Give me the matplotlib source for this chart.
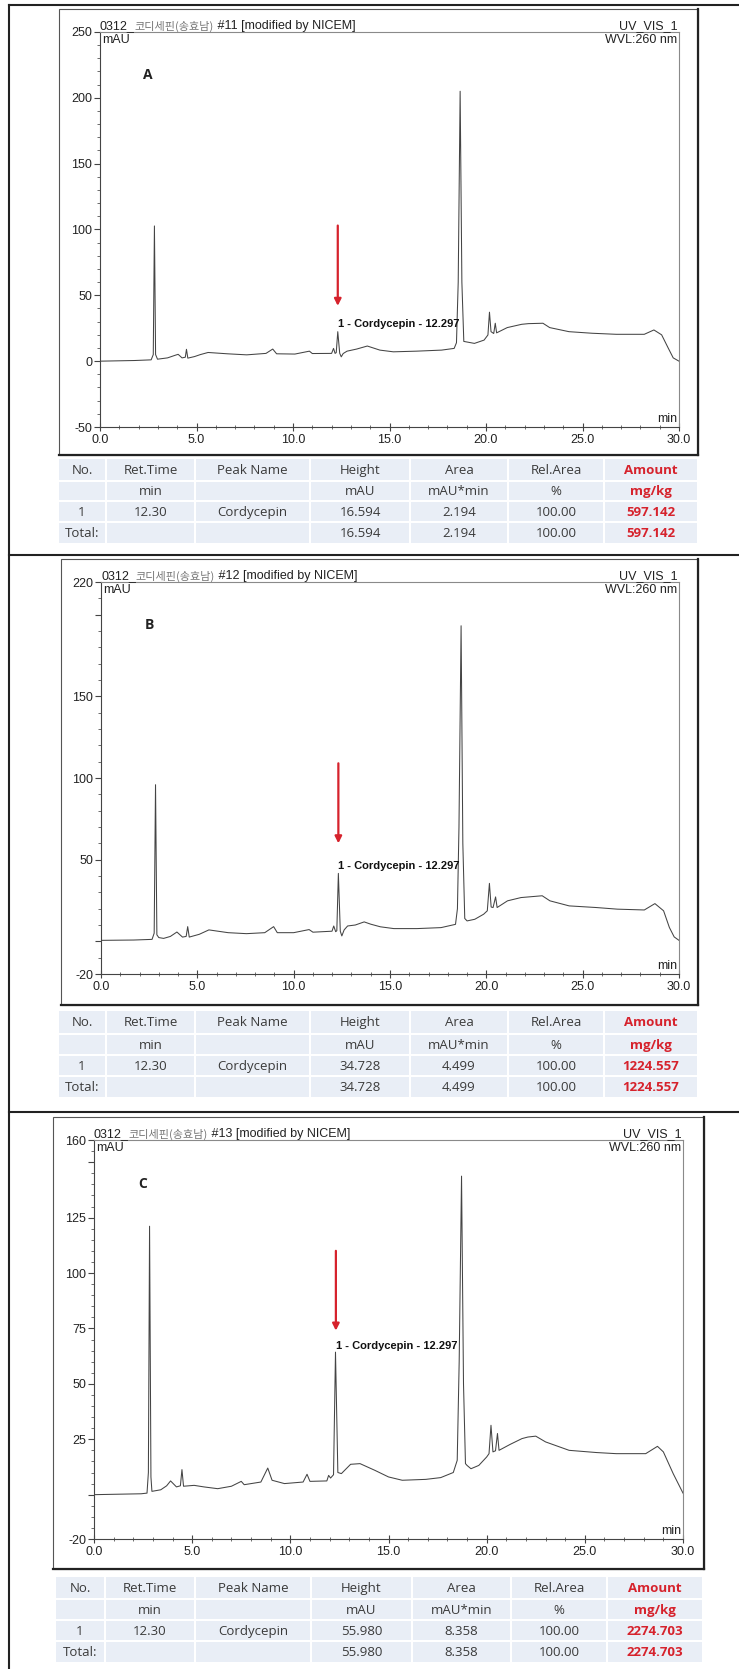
import matplotlib
matplotlib.use("Agg")
import matplotlib.pyplot as plt
from matplotlib.patches import Rectangle
from matplotlib.ticker import MultipleLocator, FixedLocator

W, H = 739, 1669

# ---- chromatogram traces (min, mAU) ----
time_a = [0.0, 1.8, 2.65, 2.76, 2.82, 2.88, 2.98, 3.5, 3.9, 4.05, 4.25, 4.42, 4.48, 4.55, 4.9, 5.2,
          5.6, 6.6, 7.6, 8.6, 8.95, 9.15, 10.1, 10.85, 11.0, 12.0, 12.1, 12.18, 12.24, 12.32, 12.42,
          12.5, 12.6, 12.8, 13.3, 13.85, 14.5, 15.2, 16.4, 17.7, 18.35, 18.47, 18.56, 18.66, 18.75,
          18.85, 19.4, 19.9, 20.1, 20.18, 20.26, 20.4, 20.48, 20.55, 21.1, 21.85, 22.2, 22.95, 23.3,
          24.3, 25.5, 26.75, 28.2, 28.7, 29.1, 29.45, 29.7, 30.0]
mau_a = [0.0, 0.5, 1.0, 5.0, 102.7, 5.0, 1.5, 2.5, 4.5, 5.2, 2.5, 3.0, 9.0, 2.3, 3.5, 5.0,
         6.6, 5.6, 4.8, 5.9, 9.2, 5.6, 5.4, 7.6, 5.8, 5.9, 9.7, 5.9, 6.5, 22.4, 6.0,
         3.3, 5.8, 7.6, 9.2, 11.5, 8.4, 7.1, 7.6, 8.4, 9.7, 14.0, 60.0, 205.0, 60.0,
         15.0, 13.5, 16.0, 19.9, 37.2, 22.4, 21.0, 28.8, 21.5, 25.5, 28.0, 28.5, 28.8, 25.5,
         22.4, 21.2, 20.4, 20.4, 23.7, 20.0, 9.7, 2.5, 0.0]

time_b = [0.0, 1.7, 2.65, 2.76, 2.83, 2.9, 3.0, 3.25, 3.6, 3.94, 4.23, 4.42, 4.5, 4.58, 5.1, 5.6,
          6.6, 7.55, 8.5, 8.96, 9.15, 10.0, 10.8, 11.0, 11.99, 12.08, 12.18, 12.24, 12.32, 12.42,
          12.5, 12.62, 12.8, 13.2, 13.66, 14.0, 14.5, 15.2, 16.4, 17.65, 18.4, 18.5, 18.58, 18.69,
          18.78, 18.88, 19.0, 19.4, 19.86, 20.05, 20.16, 20.25, 20.35, 20.48, 20.56, 21.1, 21.8,
          22.2, 22.9, 23.3, 24.3, 25.7, 26.8, 28.2, 28.75, 29.2, 29.5, 29.75, 30.0]
mau_b = [0.6, 0.8, 1.2, 5.0, 95.9, 4.0, 2.3, 1.8, 3.0, 5.7, 2.6, 3.0, 9.0, 2.6, 4.3, 7.0,
         5.3, 4.7, 5.3, 9.0, 5.3, 5.3, 7.2, 5.6, 6.2, 9.4, 5.9, 6.5, 41.6, 6.2,
         3.3, 7.0, 9.4, 10.0, 11.9, 10.5, 8.9, 7.8, 7.8, 8.4, 10.4, 20.0, 70.0, 193.2,
         60.0, 14.0, 12.5, 13.5, 16.6, 18.7, 35.5, 21.0, 20.7, 27.2, 20.7, 24.8, 26.8,
         27.2, 27.9, 24.8, 21.7, 20.7, 19.7, 19.2, 23.1, 18.7, 8.5, 2.7, 0.6]

time_c = [0.0, 2.4, 2.7, 2.77, 2.83, 2.9, 2.95, 3.4, 3.7, 3.9, 4.2, 4.4, 4.48, 4.56, 5.1, 5.6,
          6.3, 7.0, 7.5, 7.65, 8.5, 8.85, 9.07, 9.7, 10.65, 10.85, 11.0, 11.86, 11.95, 12.05,
          12.2, 12.3, 12.42, 12.6, 13.07, 13.55, 14.3, 15.0, 15.7, 16.9, 17.66, 18.3, 18.5,
          18.6, 18.72, 18.82, 18.92, 19.0, 19.2, 19.6, 20.0, 20.12, 20.22, 20.32, 20.45, 20.55,
          20.63, 21.2, 21.8, 22.1, 22.5, 23.0, 24.2, 25.6, 26.6, 28.1, 28.7, 29.0, 29.5, 30.0]
mau_c = [0.0, 0.4, 0.7, 10.0, 121.1, 8.0, 1.5, 2.2, 4.0, 6.2, 3.5, 4.0, 11.3, 3.8, 4.2, 3.5,
         2.7, 3.8, 6.0, 4.5, 5.7, 12.0, 6.5, 5.0, 5.7, 9.2, 6.0, 6.2, 8.7, 7.5,
         9.0, 64.3, 10.0, 9.5, 13.7, 14.0, 11.0, 8.0, 6.5, 6.9, 7.7, 10.0, 15.5,
         60.0, 143.7, 50.0, 14.0, 13.2, 11.7, 13.2, 17.0, 18.5, 31.3, 19.3, 19.8, 27.6,
         20.0, 22.7, 25.3, 26.0, 26.4, 23.8, 20.0, 19.0, 18.5, 18.5, 21.8, 19.3, 9.5, 0.7]

# ---- per-panel labels ----
panel_letters = ["A", "B", "C"]
run_numbers = ["#11", "#12", "#13"]
y_limits = [(-50, 250), (-20, 220), (-20, 160)]
y_major = [[250, 200, 150, 100, 50, 0, -50],
           [220, 200, 150, 100, 50, 0, -20],
           [160, 150, 125, 100, 75, 50, 25, 0, -20]]
y_major_labels = [["250", "200", "150", "100", "50", "0", "-50"],
                  ["220", "", "150", "100", "50", "", "-20"],
                  ["160", "", "125", "100", "75", "50", "25", "", "-20"]]
y_minor_step = [10, 10, 5]
peak_time = 12.3
label_level = [28, 46, 67]
arrow_top = [103, 109, 110]
arrow_tip = [42, 60, 74]

# ---- result tables ----
table_header = ["No.", "Ret.Time", "Peak Name", "Height", "Area", "Rel.Area", "Amount"]
table_units = ["", "min", "", "mAU", "mAU*min", "%", "mg/kg"]
height_vals = ["16.594", "34.728", "55.980"]
area_vals = ["2.194", "4.499", "8.358"]
amount_vals = ["597.142", "1224.557", "2274.703"]

traces = [(time_a, mau_a), (time_b, mau_b), (time_c, mau_c)]

# ---- layout in pixels ----
frames = [(59, 9, 698, 455), (61, 559, 698, 1005), (53, 1117, 704, 1569)]
plots = [(100, 32, 679, 427), (101, 582, 679, 974), (94, 1140, 683, 1539)]
tab_cols = [[58, 106, 195, 310, 410, 508, 604, 698],
            [58, 106, 195, 310, 410, 508, 604, 698],
            [55, 105, 195, 311, 412, 511, 607, 703]]
tab_rows = [[458, 481, 501, 522, 544],
            [1010, 1034, 1055, 1076, 1098],
            [1576, 1599, 1620, 1641, 1663]]

fig = plt.figure(figsize=(W / 100, H / 100), dpi=100)
fig.patch.set_facecolor("white")

ov = fig.add_axes([0, 0, 1, 1], zorder=0)
ov.set_xlim(0, W)
ov.set_ylim(H, 0)
ov.axis("off")

# outer page borders
ov.plot([9, 9], [5, H], color="#222222", lw=1.5)
for yy in [5, 555, 1112]:
    ov.plot([9, W], [yy, yy], color="#222222", lw=1.5)

txt_font = "Liberation Sans"
red = "#d6222c"

for i in range(3):
    fx0, fy0, fx1, fy1 = frames[i]
    ov.add_patch(Rectangle((fx0, fy0), fx1 - fx0, fy1 - fy0, facecolor="white",
                           edgecolor="#555555", lw=0.8))
    ov.plot([fx1, fx1], [fy0, fy1], color="#222222", lw=1.6)
    ov.plot([fx0, fx1], [fy1, fy1], color="#222222", lw=1.6)

    x0, y0, x1, y1 = plots[i]
    ax = fig.add_axes([x0 / W, 1 - y1 / H, (x1 - x0) / W, (y1 - y0) / H], zorder=2)
    ax.set_facecolor("none")
    t, v = traces[i]
    ax.plot(t, v, color="#444444", lw=0.75)
    ax.set_xlim(0, 30)
    ax.set_ylim(*y_limits[i])

    for s in ["left", "bottom"]:
        ax.spines[s].set_color("#444444")
        ax.spines[s].set_linewidth(0.8)
    for s in ["top", "right"]:
        ax.spines[s].set_color("#8a8a8a")
        ax.spines[s].set_linewidth(0.8)

    ax.yaxis.set_major_locator(FixedLocator(y_major[i]))
    ax.set_yticklabels(y_major_labels[i])
    ax.yaxis.set_minor_locator(MultipleLocator(y_minor_step[i]))
    ax.xaxis.set_minor_locator(MultipleLocator(1))
    ax.set_xticks([0, 5, 10, 15, 20, 25, 30])
    ax.set_xticklabels([f"{x:.1f}" for x in [0, 5, 10, 15, 20, 25, 30]])
    ax.tick_params(axis="y", which="major", direction="out", length=4, width=0.8,
                   color="#444444", pad=1.5, labelsize=9, labelcolor="#222222")
    ax.tick_params(axis="y", which="minor", direction="out", length=2.5, width=0.6,
                   color="#555555")
    ax.tick_params(axis="x", which="major", direction="inout", length=6, width=0.8,
                   color="#444444", pad=2, labelsize=9, labelcolor="#222222")
    ax.tick_params(axis="x", which="minor", direction="inout", length=3.5, width=0.6,
                   color="#555555")
    for lab in ax.get_xticklabels() + ax.get_yticklabels():
        lab.set_fontfamily(txt_font)

    # header texts
    t1 = ax.text(0, 1.0, "0312_", transform=ax.transAxes, ha="left", va="bottom",
                 fontsize=9, family=txt_font, color="#222222")
    t2 = ax.annotate("코디세핀(송효남)", xy=(1, 0), xycoords=t1, ha="left", va="bottom",
                     fontsize=8, family=["Noto Sans CJK KR", "DejaVu Sans"], color="#777777")
    ax.annotate(" " + run_numbers[i] + " [modified by NICEM]", xy=(1, 0), xycoords=t2,
                ha="left", va="bottom", fontsize=9, family=txt_font, color="#222222")
    ax.text(0.997, 1.0, "UV_VIS_1", transform=ax.transAxes, ha="right", va="bottom",
            fontsize=9, family=txt_font, color="#222222")
    ax.text(0.997, 0.995, "WVL:260 nm", transform=ax.transAxes, ha="right", va="top",
            fontsize=9, family=txt_font, color="#222222")
    ax.text(0.004, 0.995, "mAU", transform=ax.transAxes, ha="left", va="top",
            fontsize=9, family=txt_font, color="#222222")
    ax.text(0.997, 0.005, "min", transform=ax.transAxes, ha="right", va="bottom",
            fontsize=9, family=txt_font, color="#222222")
    ax.text(0.083, 0.89, panel_letters[i], transform=ax.transAxes, ha="center",
            va="center", fontsize=10, fontweight="bold", family="Open Sans",
            color="#222222")

    ax.annotate("", xy=(peak_time + 0.02, arrow_tip[i]), xytext=(peak_time + 0.02, arrow_top[i]),
                arrowprops=dict(arrowstyle="-|>", color=red, lw=1.6, mutation_scale=10,
                                shrinkA=0, shrinkB=0))
    ax.text(peak_time + 0.02, label_level[i], "1 - Cordycepin - 12.297", ha="left",
            va="center", fontsize=8, fontweight="bold", family=txt_font, color="#111111")

    # result table
    cols = tab_cols[i]
    rows = tab_rows[i]
    body = [table_header, table_units,
            ["1", "12.30", "Cordycepin", height_vals[i], area_vals[i], "100.00", amount_vals[i]],
            ["Total:", "", "", height_vals[i], area_vals[i], "100.00", amount_vals[i]]]
    for r in range(4):
        for c in range(7):
            ov.add_patch(Rectangle((cols[c] + 1, rows[r] + 1), cols[c + 1] - cols[c] - 2,
                                   rows[r + 1] - rows[r] - 2, facecolor="#e9eef6",
                                   edgecolor="none"))
            last = c == 6
            ov.text((cols[c] + cols[c + 1]) / 2, (rows[r] + rows[r + 1]) / 2 + 0.5, body[r][c],
                    ha="center", va="center", fontsize=9.5, family="Open Sans",
                    color=red if last else "#3a3a3a",
                    fontweight="bold" if last else "normal")

fig.savefig("out.png", dpi=100)
